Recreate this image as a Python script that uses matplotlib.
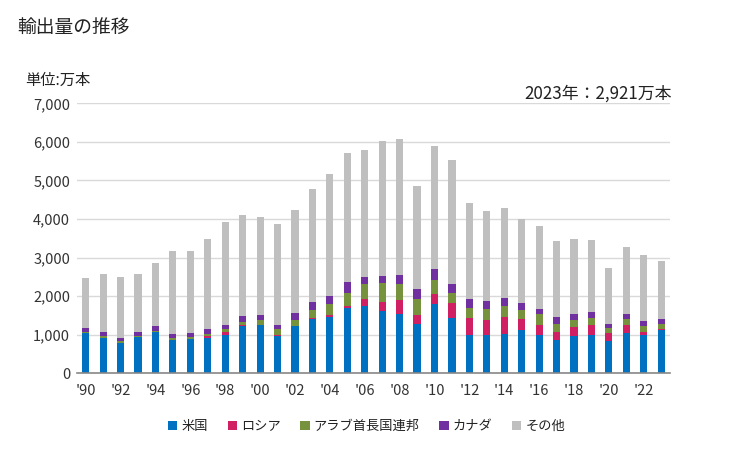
import matplotlib
matplotlib.use("Agg")
import matplotlib.pyplot as plt
import numpy as np

plt.rcParams['font.family'] = ['Noto Sans CJK JP', 'DejaVu Sans']

years = list(range(1990, 2024))
usa = [1046, 925, 786, 942, 1072, 873, 881, 925, 994, 1227, 1253, 977,
       1227, 1409, 1460, 1694, 1746, 1616, 1538, 1279, 1798, 1435, 994, 994,
       1020, 1123, 994, 873, 977, 994, 838, 1046, 994, 1132]
russia = [0, 0, 0, 0, 0, 0, 17, 52, 86, 26, 10, 26,
          0, 26, 52, 52, 181, 233, 363, 233, 259, 389, 441, 389,
          441, 285, 259, 199, 225, 259, 207, 207, 78, 26]
uae = [26, 43, 52, 35, 35, 52, 35, 52, 69, 78, 130, 147,
       156, 207, 285, 337, 389, 493, 415, 415, 363, 259, 259, 285,
       285, 233, 285, 207, 181, 181, 130, 156, 156, 121]
canada = [104, 104, 86, 95, 121, 95, 104, 121, 104, 156, 130, 104,
          181, 207, 207, 285, 181, 181, 233, 259, 285, 233, 233, 207,
          207, 181, 130, 181, 156, 156, 104, 130, 130, 130]
others = [1296, 1503, 1574, 1503, 1632, 2152, 2135, 2333, 2670, 2618, 2530, 2618,
          2671, 2930, 3164, 3344, 3293, 3500, 3526, 2671, 3189, 3215, 2489, 2334,
          2333, 2179, 2152, 1971, 1944, 1867, 1452, 1736, 1710, 1512]

series_names = ['米国', 'ロシア', 'アラブ首長国連邦', 'カナダ', 'その他']
series_vals = [usa, russia, uae, canada, others]
colors = ['#0070C0', '#D01F62', '#76923C', '#7030A0', '#BFBFBF']

tick_labels = ["'%02d" % (y % 100) for y in years]

fig = plt.figure(figsize=(7.29, 4.5), dpi=100)
ax = fig.add_axes([0.1056, 0.1704, 0.8134, 0.600])

x = np.arange(len(years))
bottom = np.zeros(len(years))
handles = []
for name, vals, c in zip(series_names, series_vals, colors):
    v = np.array(vals, dtype=float)
    h = ax.bar(x, v, bottom=bottom, width=0.41, color=c, label=name, zorder=3)
    handles.append(h)
    bottom += v

ax.set_xlim(-0.5, len(years) - 0.5)
ax.set_ylim(0, 7000)
ax.set_yticks(np.arange(0, 7001, 1000))
ax.set_yticklabels([f"{v:,}" for v in range(0, 7001, 1000)])
ax.set_xticks(x[::2])
ax.set_xticklabels(tick_labels[::2])
ax.grid(axis='y', color='#D9D9D9', linewidth=1, zorder=0)
for s in ['left', 'right', 'top']:
    ax.spines[s].set_visible(False)
ax.spines['bottom'].set_color('#888888')
ax.spines['bottom'].set_linewidth(1.2)
ax.spines['bottom'].set_zorder(4)
ax.tick_params(axis='y', length=0, pad=5, labelsize=10.5, colors='#333333')
ax.tick_params(axis='x', length=0, pad=8, labelsize=10.5, colors='#333333')

fig.text(0.023, 0.94, '輸出量の推移', fontsize=13.5, color='#222222', va='center', ha='left')
fig.text(0.035, 0.822, '単位:万本', fontsize=11, color='#222222', va='center', ha='left')
fig.text(0.922, 0.793, '2023年：2,921万本', fontsize=12.2, color='#222222', va='center', ha='right')

leg = fig.legend(handles=handles, labels=series_names, loc='center', bbox_to_anchor=(0.503, 0.052),
                 ncol=5, frameon=False, fontsize=9.5, handlelength=0.7, handleheight=0.7,
                 handletextpad=0.3, columnspacing=1.5)
for t in leg.get_texts():
    t.set_color('#222222')

fig.savefig('out.png', dpi=100)
